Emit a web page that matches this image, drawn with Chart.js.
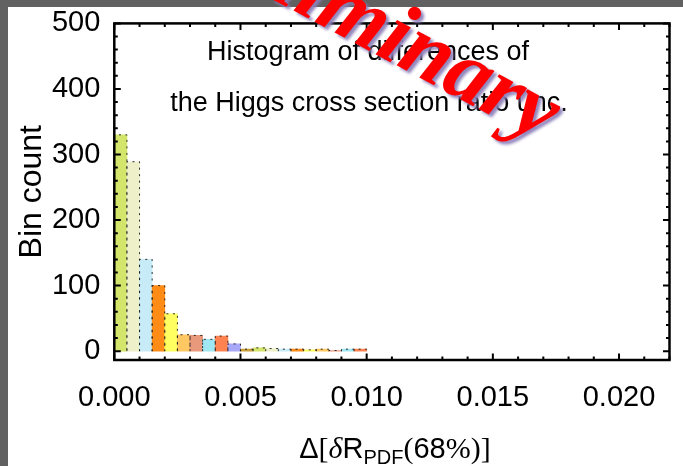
<!DOCTYPE html>
<html>
<head>
<meta charset="utf-8">
<script src="https://cdn.jsdelivr.net/npm/chart.js@4/dist/chart.umd.min.js"></script>
<style>
  html, body { margin: 0; padding: 0; background: #616161; overflow: hidden; }
  canvas { display: block; }
</style>
</head>
<body>
<canvas id="chart" width="683" height="466"></canvas>
<script>
// Histogram bins (centres, width 0.0005) and their counts
const binCenters = [0.00025, 0.00075, 0.00125, 0.00175, 0.00225, 0.00275, 0.00325, 0.00375, 0.00425, 0.00475,
                    0.00525, 0.00575, 0.00625, 0.00675, 0.00725, 0.00775, 0.00825, 0.00875, 0.00925, 0.00975];
const binCounts  = [330, 289, 140, 100, 57, 25, 24, 18, 23, 11,
                    3, 5, 4, 3, 3, 2, 3, 1, 3, 3];
// Fill colours cycle through this palette
const barPalette = ['#d3e56b', '#eef0c9', '#c7ebf7', '#ff8c16', '#ffff62', '#ffc862',
                    '#e8987b', '#a0e7f4', '#ff8350', '#a8a8f8', '#c9a03a'];
const xTickValues = [0, 0.005, 0.010, 0.015, 0.020];
const yTickValues = [0, 100, 200, 300, 400, 500];
const plotTitleLines = ['Histogram of differences of', 'the Higgs cross section ratio unc.'];
const yAxisTitle = 'Bin count';
const stampText = 'Preliminary';

const SANS = '"Liberation Sans", Arial, sans-serif';
const SERIF = '"Liberation Serif", "Times New Roman", serif';

const barColors = binCounts.map((_, i) => barPalette[i % barPalette.length]);

// Grey backdrop with a white panel
const panelPlugin = {
  id: 'panel',
  beforeDraw(chart) {
    const ctx = chart.ctx;
    ctx.save();
    ctx.fillStyle = '#616161';
    ctx.fillRect(0, 0, chart.width, chart.height);
    ctx.fillStyle = '#ffffff';
    ctx.fillRect(8, 7, chart.width - 8, chart.height - 7);
    ctx.restore();
  }
};

// Dotted outlines around each histogram bar
const barEdgePlugin = {
  id: 'barEdges',
  afterDatasetsDraw(chart) {
    const ctx = chart.ctx;
    const meta = chart.getDatasetMeta(0);
    ctx.save();
    ctx.setLineDash([2, 4.5]);
    ctx.lineWidth = 1;
    ctx.strokeStyle = 'rgba(25,25,25,0.9)';
    meta.data.forEach(bar => {
      const p = bar.getProps(['x', 'y', 'base', 'width'], true);
      const l = p.x - p.width / 2, r = p.x + p.width / 2;
      ctx.beginPath();
      ctx.moveTo(l, p.base);
      ctx.lineTo(l, p.y);
      ctx.lineTo(r, p.y);
      ctx.lineTo(r, p.base);
      ctx.stroke();
    });
    ctx.restore();
  }
};

// Frame with inward ticks on all four sides, titles and the stamp
const framePlugin = {
  id: 'frame',
  afterDraw(chart) {
    const ctx = chart.ctx;
    const a = chart.chartArea;
    const xs = chart.scales.x, ys = chart.scales.y;
    ctx.save();

    // ticks
    ctx.strokeStyle = '#000';
    ctx.lineWidth = 2;
    ctx.setLineDash([]);
    const major = 6.5, minor = 3.5;
    for (let k = 0; k <= 25; k++) {
      const v = k * 20;
      const py = ys.getPixelForValue(v);
      const len = (k % 5 === 0) ? major : minor;
      ctx.beginPath();
      ctx.moveTo(a.left, py); ctx.lineTo(a.left + len, py);
      ctx.moveTo(a.right, py); ctx.lineTo(a.right - len, py);
      ctx.stroke();
    }
    for (let k = 0; k <= 22; k++) {
      const v = k * 0.001;
      const px = xs.getPixelForValue(v);
      const len = (k % 5 === 0) ? major : minor;
      ctx.beginPath();
      ctx.moveTo(px, a.bottom); ctx.lineTo(px, a.bottom - len);
      ctx.moveTo(px, a.top); ctx.lineTo(px, a.top + len);
      ctx.stroke();
    }

    // frame
    ctx.lineWidth = 2.5;
    ctx.strokeRect(a.left, a.top, a.right - a.left, a.bottom - a.top);

    // plot title text inside the frame
    ctx.fillStyle = '#000';
    ctx.font = '27px ' + SANS;
    ctx.textAlign = 'center';
    ctx.textBaseline = 'alphabetic';
    ctx.fillText(plotTitleLines[0], 368, 60);
    ctx.fillText(plotTitleLines[1], 369, 111);

    // y axis title
    ctx.save();
    ctx.translate(41, (a.top + a.bottom) / 2);
    ctx.rotate(-Math.PI / 2);
    ctx.font = '32px ' + SANS;
    ctx.fillText(yAxisTitle, 0, 0);
    ctx.restore();

    // x axis title: Δ[δR_PDF(68%)]
    const parts = [
      { t: 'Δ', f: '29px ' + SANS, dy: 0 },
      { t: '[', f: '30px ' + SERIF, dy: 0 },
      { t: 'δ', f: 'italic 30px ' + SERIF, dy: 0 },
      { t: 'R', f: '29px ' + SANS, dy: 0 },
      { t: 'PDF', f: '20px ' + SANS, dy: 6 },
      { t: '(', f: '30px ' + SERIF, dy: 0 },
      { t: '68', f: '29px ' + SANS, dy: 0 },
      { t: '%', f: '30px ' + SERIF, dy: 0 },
      { t: ')', f: '30px ' + SERIF, dy: 0 },
      { t: ']', f: '30px ' + SERIF, dy: 0 }
    ];
    ctx.textAlign = 'left';
    let total = 0;
    parts.forEach(p => { ctx.font = p.f; p.w = ctx.measureText(p.t).width; total += p.w; });
    let cx = (a.left + a.right) / 2 + 3 - total / 2;
    parts.forEach(p => { ctx.font = p.f; ctx.fillText(p.t, cx, 458 + p.dy); cx += p.w; });

    // red stamp across the top
    ctx.save();
    ctx.font = 'italic bold 88px ' + SERIF;
    const lead = ctx.measureText('Preli').width;
    const ang = 28 * Math.PI / 180;
    ctx.translate(313, 21);
    ctx.rotate(ang);
    ctx.shadowColor = 'rgba(140,128,185,0.95)';
    ctx.shadowOffsetX = 3;
    ctx.shadowOffsetY = 3;
    ctx.shadowBlur = 3;
    ctx.fillStyle = '#ff0000';
    ctx.textBaseline = 'alphabetic';
    ctx.fillText(stampText, -lead, 0);
    ctx.restore();

    ctx.restore();
  }
};

new Chart(document.getElementById('chart'), {
  type: 'bar',
  data: {
    datasets: [{
      data: binCenters.map((x, i) => ({ x: x, y: binCounts[i] })),
      backgroundColor: barColors,
      borderWidth: 0,
      barPercentage: 1,
      categoryPercentage: 1
    }]
  },
  options: {
    responsive: false,
    animation: false,
    devicePixelRatio: 1,
    layout: { padding: { left: 0, top: 18.5, right: 13.5, bottom: 0 } },
    plugins: { legend: { display: false }, tooltip: { enabled: false } },
    scales: {
      x: {
        type: 'linear',
        offset: false,
        min: 0,
        max: 0.022,
        grid: { display: false, offset: false },
        border: { display: false },
        afterFit: s => { s.height = 106; },
        afterBuildTicks: s => { s.ticks = xTickValues.map(v => ({ value: v })); },
        ticks: {
          color: '#000',
          font: { family: SANS, size: 29 },
          padding: 13,
          maxRotation: 0,
          autoSkip: false,
          callback: v => Number(v).toFixed(3)
        }
      },
      y: {
        min: -13.5,
        max: 500,
        grid: { display: false },
        border: { display: false },
        afterFit: s => { s.width = 114.3; },
        afterBuildTicks: s => { s.ticks = yTickValues.map(v => ({ value: v })); },
        ticks: {
          color: '#000',
          font: { family: SANS, size: 29 },
          padding: 6
        }
      }
    }
  },
  plugins: [panelPlugin, barEdgePlugin, framePlugin]
});
</script>
</body>
</html>
